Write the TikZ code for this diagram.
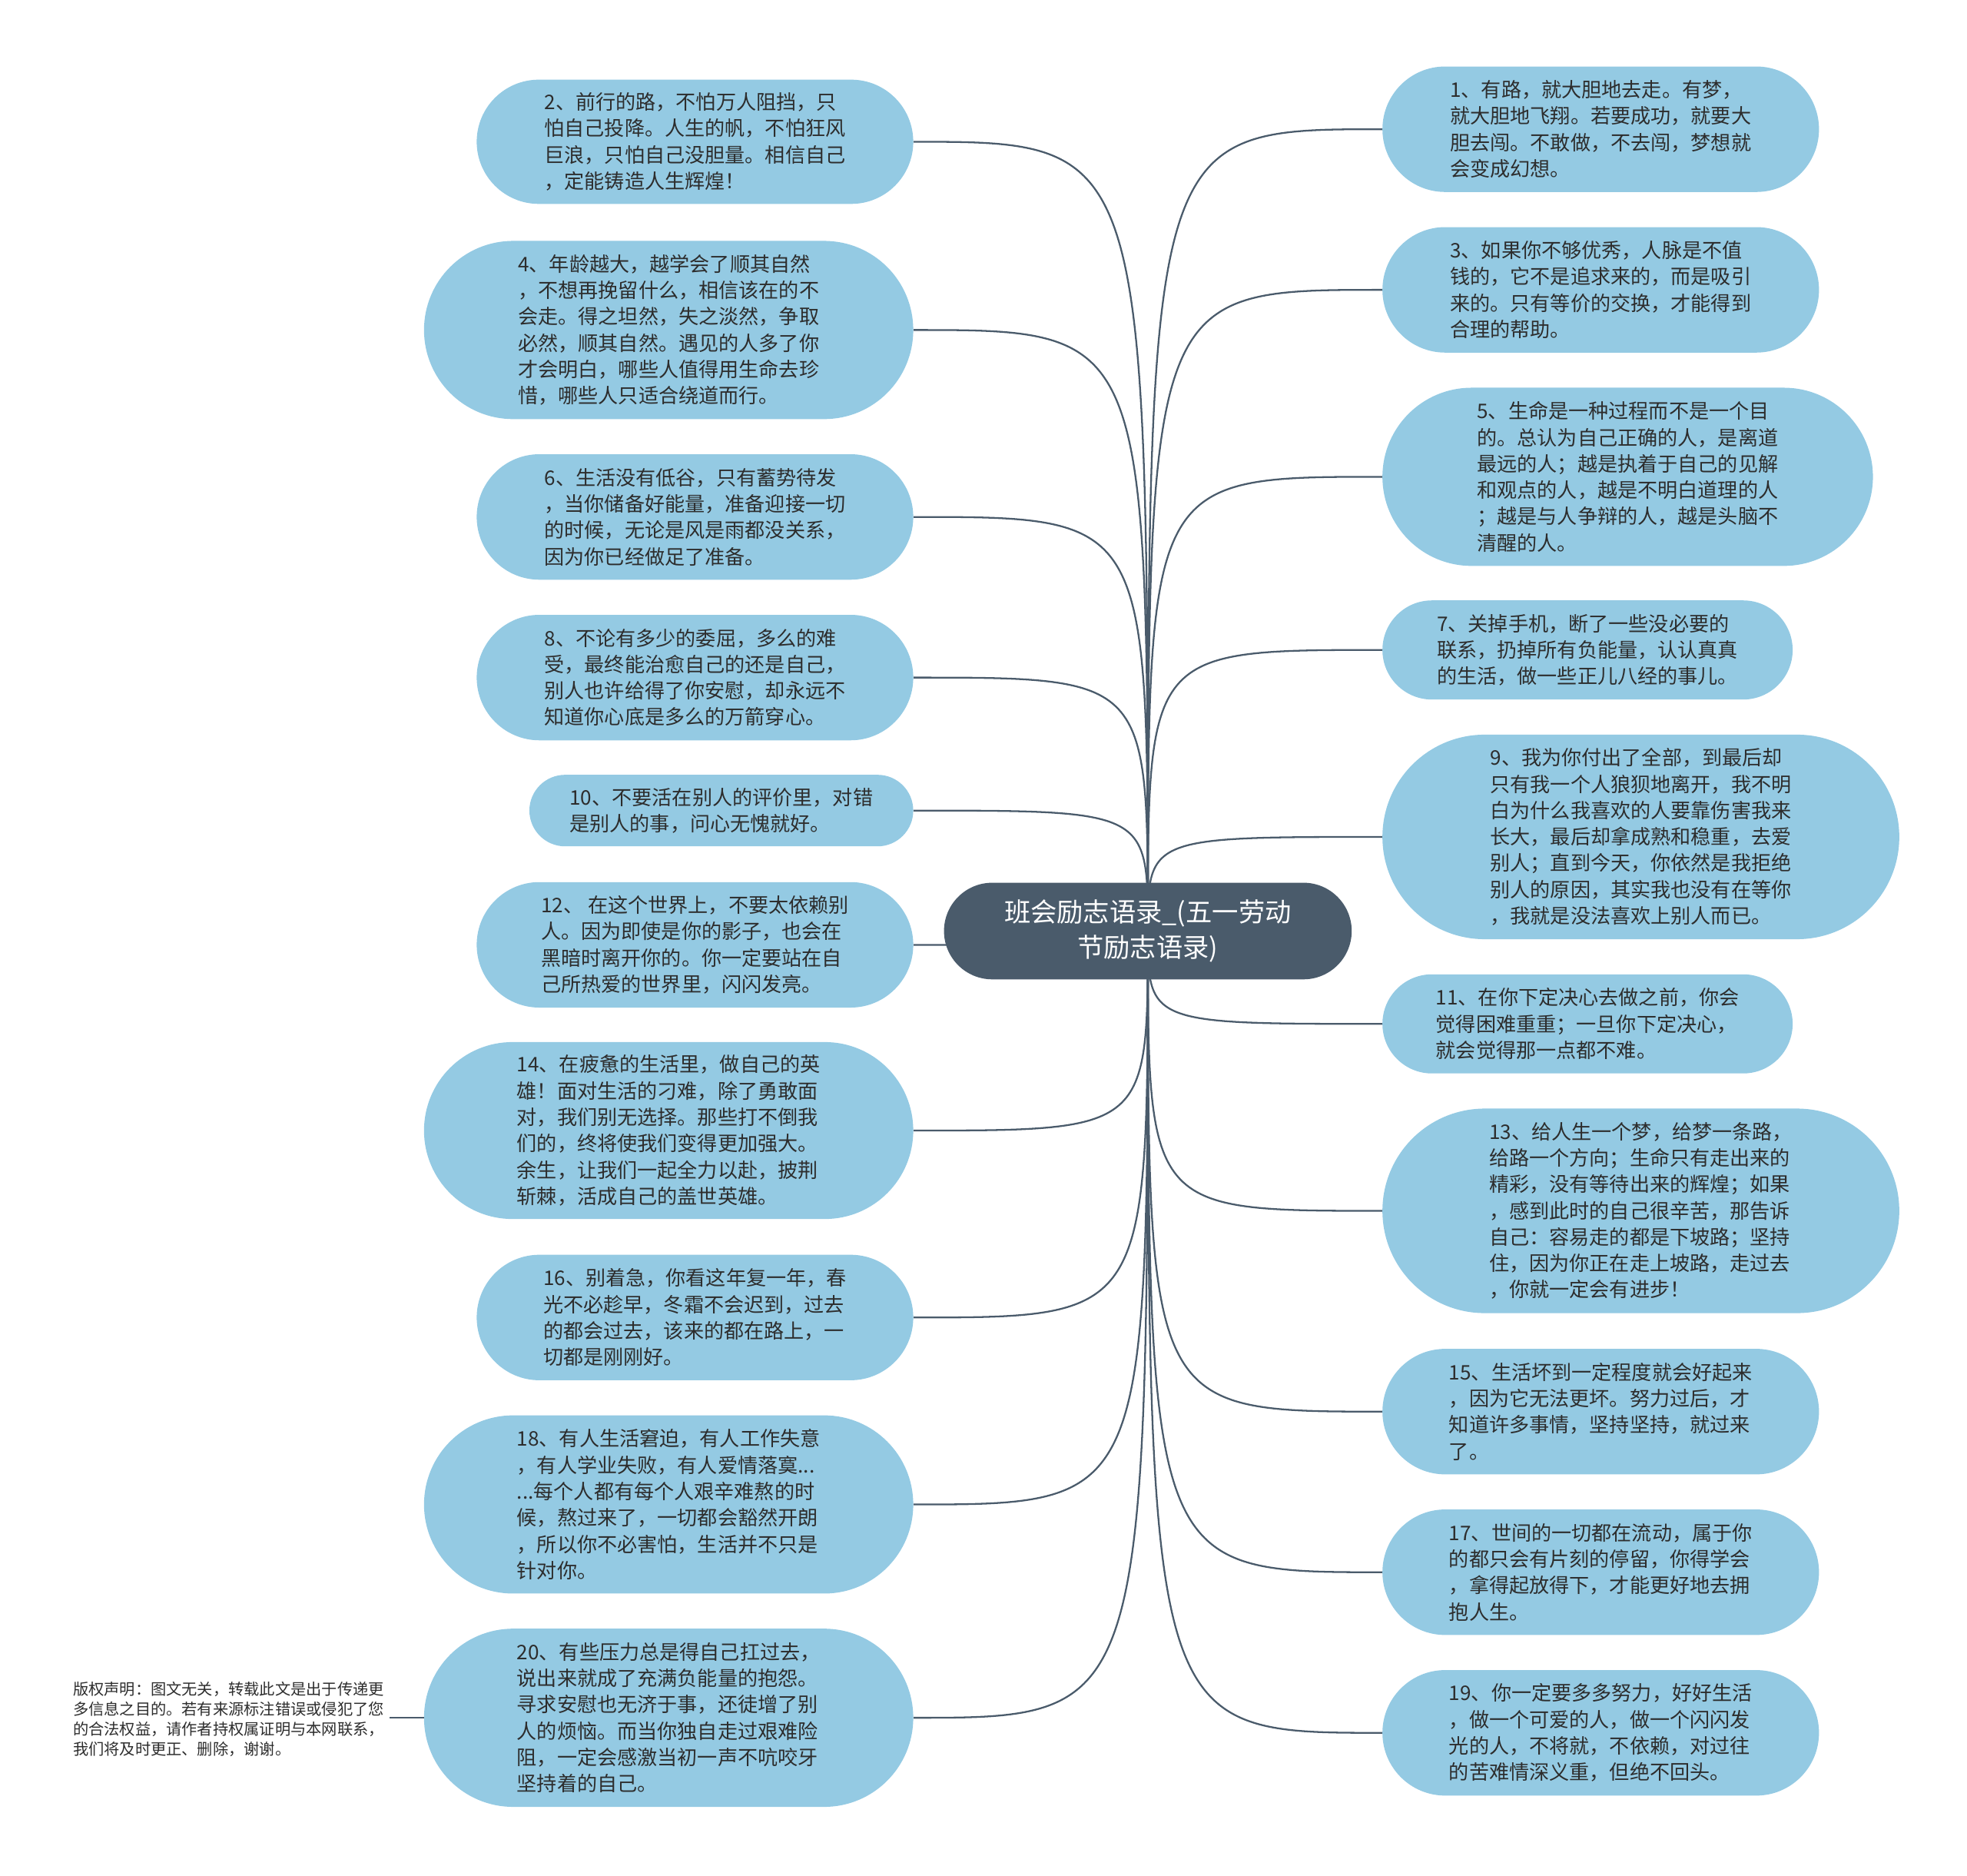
\documentclass[tikz,border=0pt]{standalone}
\usepackage{fontspec}
\setmainfont{Noto Sans CJK SC}
\usetikzlibrary{shapes.misc, backgrounds}
\definecolor{leaffill}{RGB}{148,202,227}
\definecolor{rootfill}{RGB}{74,91,107}
\colorlet{linkcol}{rootfill}
\definecolor{textcol}{RGB}{45,45,45}
\tikzset{
  leaf/.style={rounded rectangle, fill=leaffill, text=textcol, align=left,
    inner sep=0pt, font=\fontsize{16}{21}\selectfont},
  root/.style={rounded rectangle, fill=rootfill, text=white, align=center,
    inner sep=0pt, font=\fontsize{21}{28}\selectfont},
  link/.style={draw=linkcol, line width=1.4pt},
  note/.style={align=left, text=textcol, inner xsep=4pt, inner ysep=0pt,
    font=\fontsize{12.4}{16}\selectfont}
}

\begin{document}
\begin{tikzpicture}[x=1pt, y=-1pt]
\useasboundingbox (0,0) rectangle (1568,1495);

% Central topic
\node[root, minimum width=325pt, minimum height=77pt] (root) at (915,742)
  {班会励志语录\_(五一劳动\\节励志语录)};

% Left branches
\node[leaf, minimum width=348pt, minimum height=99pt] (l2) at (554,113)
  {2、前行的路，不怕万人阻挡，只\\怕自己投降。人生的帆，不怕狂风\\巨浪，只怕自己没胆量。相信自己\\，定能铸造人生辉煌！};
\node[leaf, minimum width=390pt, minimum height=142pt] (l4) at (533,263)
  {4、年龄越大，越学会了顺其自然\\，不想再挽留什么，相信该在的不\\会走。得之坦然，失之淡然，争取\\必然，顺其自然。遇见的人多了你\\才会明白，哪些人值得用生命去珍\\惜，哪些人只适合绕道而行。};
\node[leaf, minimum width=348pt, minimum height=100pt] (l6) at (554,412)
  {6、生活没有低谷，只有蓄势待发\\，当你储备好能量，准备迎接一切\\的时候，无论是风是雨都没关系，\\因为你已经做足了准备。};
\node[leaf, minimum width=348pt, minimum height=100pt] (l8) at (554,540)
  {8、不论有多少的委屈，多么的难\\受，最终能治愈自己的还是自己，\\别人也许给得了你安慰，却永远不\\知道你心底是多么的万箭穿心。};
\node[leaf, minimum width=306pt, minimum height=57pt] (l10) at (575,646)
  {10、不要活在别人的评价里，对错\\是别人的事，问心无愧就好。};
\node[leaf, minimum width=348pt, minimum height=100pt] (l12) at (554,753)
  {12、 在这个世界上，不要太依赖别\\人。因为即使是你的影子，也会在\\黑暗时离开你的。你一定要站在自\\己所热爱的世界里，闪闪发亮。};
\node[leaf, minimum width=390pt, minimum height=141pt] (l14) at (533,901)
  {14、在疲惫的生活里，做自己的英\\雄！面对生活的刁难，除了勇敢面\\对，我们别无选择。那些打不倒我\\们的，终将使我们变得更加强大。\\余生，让我们一起全力以赴，披荆\\斩棘，活成自己的盖世英雄。};
\node[leaf, minimum width=348pt, minimum height=100pt] (l16) at (554,1050)
  {16、别着急，你看这年复一年，春\\光不必趁早，冬霜不会迟到，过去\\的都会过去，该来的都在路上，一\\切都是刚刚好。};
\node[leaf, minimum width=390pt, minimum height=142pt] (l18) at (533,1199)
  {18、有人生活窘迫，有人工作失意\\，有人学业失败，有人爱情落寞...\\...每个人都有每个人艰辛难熬的时\\候，熬过来了，一切都会豁然开朗\\，所以你不必害怕，生活并不只是\\针对你。};
\node[leaf, minimum width=390pt, minimum height=142pt] (l20) at (533,1369)
  {20、有些压力总是得自己扛过去，\\说出来就成了充满负能量的抱怨。\\寻求安慰也无济于事，还徒增了别\\人的烦恼。而当你独自走过艰难险\\阻，一定会感激当初一声不吭咬牙\\坚持着的自己。};

% Right branches
\node[leaf, minimum width=348pt, minimum height=100pt] (r1) at (1276,103)
  {1、有路，就大胆地去走。有梦，\\就大胆地飞翔。若要成功，就要大\\胆去闯。不敢做，不去闯，梦想就\\会变成幻想。};
\node[leaf, minimum width=348pt, minimum height=100pt] (r3) at (1276,231)
  {3、如果你不够优秀，人脉是不值\\钱的，它不是追求来的，而是吸引\\来的。只有等价的交换，才能得到\\合理的帮助。};
\node[leaf, minimum width=391pt, minimum height=142pt] (r5) at (1297.5,380)
  {5、生命是一种过程而不是一个目\\的。总认为自己正确的人，是离道\\最远的人；越是执着于自己的见解\\和观点的人，越是不明白道理的人\\；越是与人争辩的人，越是头脑不\\清醒的人。};
\node[leaf, minimum width=327pt, minimum height=79pt] (r7) at (1265.5,518)
  {7、关掉手机，断了一些没必要的\\联系，扔掉所有负能量，认认真真\\的生活，做一些正儿八经的事儿。};
\node[leaf, minimum width=412pt, minimum height=163pt] (r9) at (1308,667)
  {9、我为你付出了全部，到最后却\\只有我一个人狼狈地离开，我不明\\白为什么我喜欢的人要靠伤害我来\\长大，最后却拿成熟和稳重，去爱\\别人；直到今天，你依然是我拒绝\\别人的原因，其实我也没有在等你\\，我就是没法喜欢上别人而已。};
\node[leaf, minimum width=327pt, minimum height=79pt] (r11) at (1265.5,816)
  {11、在你下定决心去做之前，你会\\觉得困难重重；一旦你下定决心，\\就会觉得那一点都不难。};
\node[leaf, minimum width=412pt, minimum height=163pt] (r13) at (1308,965)
  {13、给人生一个梦，给梦一条路，\\给路一个方向；生命只有走出来的\\精彩，没有等待出来的辉煌；如果\\，感到此时的自己很辛苦，那告诉\\自己：容易走的都是下坡路；坚持\\住，因为你正在走上坡路，走过去\\，你就一定会有进步！};
\node[leaf, minimum width=348pt, minimum height=100pt] (r15) at (1276,1125)
  {15、生活坏到一定程度就会好起来\\，因为它无法更坏。努力过后，才\\知道许多事情，坚持坚持，就过来\\了。};
\node[leaf, minimum width=348pt, minimum height=100pt] (r17) at (1276,1253)
  {17、世间的一切都在流动，属于你\\的都只会有片刻的停留，你得学会\\，拿得起放得下，才能更好地去拥\\抱人生。};
\node[leaf, minimum width=348pt, minimum height=100pt] (r19) at (1276,1381)
  {19、你一定要多多努力，好好生活\\，做一个可爱的人，做一个闪闪发\\光的人，不将就，不依赖，对过往\\的苦难情深义重，但绝不回头。};

% Copyright note
\node[note, anchor=west] (note) at (54,1370)
  {版权声明：图文无关，转载此文是出于传递更\\多信息之目的。若有来源标注错误或侵犯了您\\的合法权益，请作者持权属证明与本网联系，\\我们将及时更正、删除，谢谢。};
\draw[link] (l20.west) -- (l20.west -| note.east);

% Curved links, behind the nodes
\begin{scope}[on background layer]
\draw[link] (root.center) .. controls (root.center |- l2.east) .. (l2.east);
\draw[link] (root.center) .. controls (root.center |- l4.east) .. (l4.east);
\draw[link] (root.center) .. controls (root.center |- l6.east) .. (l6.east);
\draw[link] (root.center) .. controls (root.center |- l8.east) .. (l8.east);
\draw[link] (root.center) .. controls (root.center |- l10.east) .. (l10.east);
\draw[link] (root.center) .. controls (root.center |- l12.east) .. (l12.east);
\draw[link] (root.center) .. controls (root.center |- l14.east) .. (l14.east);
\draw[link] (root.center) .. controls (root.center |- l16.east) .. (l16.east);
\draw[link] (root.center) .. controls (root.center |- l18.east) .. (l18.east);
\draw[link] (root.center) .. controls (root.center |- l20.east) .. (l20.east);
\draw[link] (root.center) .. controls (root.center |- r1.west) .. (r1.west);
\draw[link] (root.center) .. controls (root.center |- r3.west) .. (r3.west);
\draw[link] (root.center) .. controls (root.center |- r5.west) .. (r5.west);
\draw[link] (root.center) .. controls (root.center |- r7.west) .. (r7.west);
\draw[link] (root.center) .. controls (root.center |- r9.west) .. (r9.west);
\draw[link] (root.center) .. controls (root.center |- r11.west) .. (r11.west);
\draw[link] (root.center) .. controls (root.center |- r13.west) .. (r13.west);
\draw[link] (root.center) .. controls (root.center |- r15.west) .. (r15.west);
\draw[link] (root.center) .. controls (root.center |- r17.west) .. (r17.west);
\draw[link] (root.center) .. controls (root.center |- r19.west) .. (r19.west);
\end{scope}

\end{tikzpicture}
\end{document}
